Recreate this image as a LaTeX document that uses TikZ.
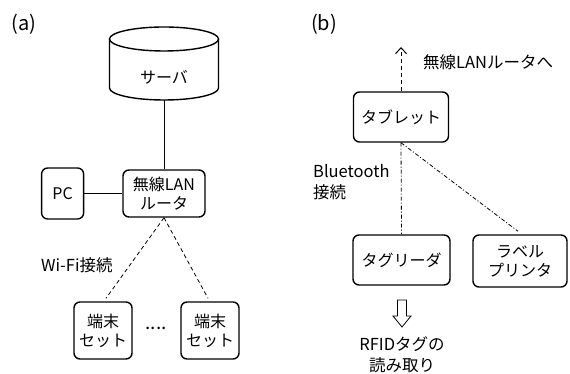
\documentclass[tikz,border=0pt]{standalone}
\usepackage{fontspec}
\setmainfont{Noto Sans CJK JP}
\usetikzlibrary{arrows.meta,positioning}

\begin{document}
\begin{tikzpicture}[
  x=1pt, y=1pt,
  node distance=38pt and 38pt,
  box/.style={
    draw,
    line width=1.4pt,
    rounded corners=6pt,
    align=center,
    inner sep=2pt,
    font=\fontsize{16}{19}\selectfont
  },
  note/.style={inner sep=0pt, font=\fontsize{16.5}{21}\selectfont},
  wifi/.style={dash pattern=on 4pt off 3pt, line width=0.8pt},
  bt/.style={dash pattern=on 4pt off 2pt on 1pt off 2pt, line width=0.8pt},
  wire/.style={line width=0.8pt}
]
\useasboundingbox (0,0) rectangle (570,374);

% (a) network
\node[note, font=\fontsize{20}{24}\selectfont] (tagA) at (24,350) {(a)};
\draw[line width=1.4pt] (109.5,335) -- (109.5,286)
  arc[start angle=180, end angle=360, x radius=54.5, y radius=12] -- (218.5,335);
\draw[line width=1.4pt] (164,335) ellipse[x radius=54.5, y radius=12];
\node[font=\fontsize{16}{19}\selectfont] (server) at (164,297) {サーバ};
\coordinate (serverb) at (164,274);
\node[box, minimum width=82pt, minimum height=47pt] (router) at (164,180.5)
  {無線LAN\\ルータ};
\node[box, minimum width=42pt, minimum height=51pt, left=38pt of router] (pc) {PC};
\node[box, minimum width=58pt, minimum height=57pt] (term1) at (103,43.5)
  {端末\\セット};
\node[box, minimum width=58pt, minimum height=57pt] (term2) at (210,43.5)
  {端末\\セット};
\node[note, font=\fontsize{19}{21}\selectfont] (dots) at (156,46) {....};
\node[note, anchor=west] (wifilabel) at (41,109) {Wi-Fi接続};
\draw[wire] (serverb) -- (router);
\draw[wire] (pc) -- (router);
\draw[wifi] (router.south) -- ([shift={(3,3)}]term1.north);
\draw[wifi] (router.south) -- ([shift={(-2,3)}]term2.north);

% (b) tablet
\node[note, font=\fontsize{20}{24}\selectfont] (tagB) at (324,350) {(b)};
\node[box, minimum width=95pt, minimum height=50pt] (tablet) at (401,257) {タブレット};
\coordinate (lanend) at (401,327);
\node[note, anchor=west] (lantext) at (423,312) {無線LANルータへ};
\node[box, minimum width=97pt, minimum height=50pt] (reader) at (401.5,114) {タグリーダ};
\node[box, minimum width=94pt, minimum height=52pt] (printer) at (520,113)
  {ラベル\\プリンタ};
\node[note, anchor=west, align=left] (btlabel) at (313,191.5) {Bluetooth\\接続};
\node[note, align=center] (readtext) at (402,19.5) {RFIDタグの\\読み取り};
\draw[wifi, -{Straight Barb[length=6pt,width=11pt,line width=1pt]}] (tablet.north) -- (lanend);
\draw[bt] (tablet.south) -- (reader.north);
\draw[bt] (tablet.south) -- ([shift={(-2,3)}]printer.north);
\draw[line width=0.8pt] (397.5,74) -- (397.5,58) -- (393,58) -- (402,47)
  -- (411,58) -- (406.5,58) -- (406.5,74) -- cycle;
\end{tikzpicture}
\end{document}
